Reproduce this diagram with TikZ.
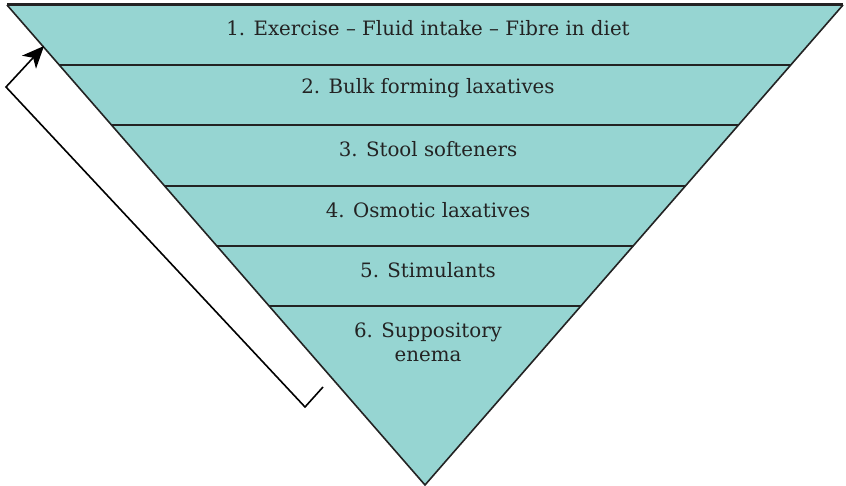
\documentclass[tikz,border=0pt]{standalone}
\usepackage{fontspec}
\setmainfont{DejaVu Serif}
\usepackage{tikz}
\usetikzlibrary{arrows.meta, calc}
\definecolor{laxteal}{RGB}{150, 213, 210}
\definecolor{inkgray}{RGB}{35, 35, 35}
\tikzset{steplabel/.style={font=\fontsize{19.8}{24}\selectfont, text=inkgray, align=center}}

\begin{document}
\begin{tikzpicture}[x=1pt, y=-1pt]
  \useasboundingbox (0,0) rectangle (846,486);
  \fill[laxteal] (7,5) -- (843,5) -- (425,485) -- cycle;
  \foreach \y in {65, 125, 186, 246, 306} {
    \draw[line width=2pt, inkgray] ({7+0.871*(\y-5)}, \y) -- ({843-0.871*(\y-5)}, \y);
  }
  \draw[line width=1.6pt, inkgray] (7,5) -- (425,485) -- (843,5);
  \draw[line width=3pt, inkgray] (7,5) -- (843,5);
  \node[steplabel] (s1) at (428, 28) {1. Exercise – Fluid intake – Fibre in diet};
  \node[steplabel] (s2) at (428, 88) {2. Bulk forming laxatives};
  \node[steplabel] (s3) at (428, 149) {3. Stool softeners};
  \node[steplabel] (s4) at (428, 210) {4. Osmotic laxatives};
  \node[steplabel] (s5) at (428, 270) {5. Stimulants};
  \node[steplabel] (s6) at (428, 342) {6. Suppository\\enema};
  \coordinate (a0) at (323, 387);
  \coordinate (a1) at (305, 407);
  \coordinate (a2) at (6, 87);
  \coordinate (a3) at (44, 46);
  \draw[line width=1.6pt, black, -{Stealth[length=22pt, width=19pt, inset=6pt]}] (a0) -- (a1) -- (a2) -- (a3);
\end{tikzpicture}
\end{document}
